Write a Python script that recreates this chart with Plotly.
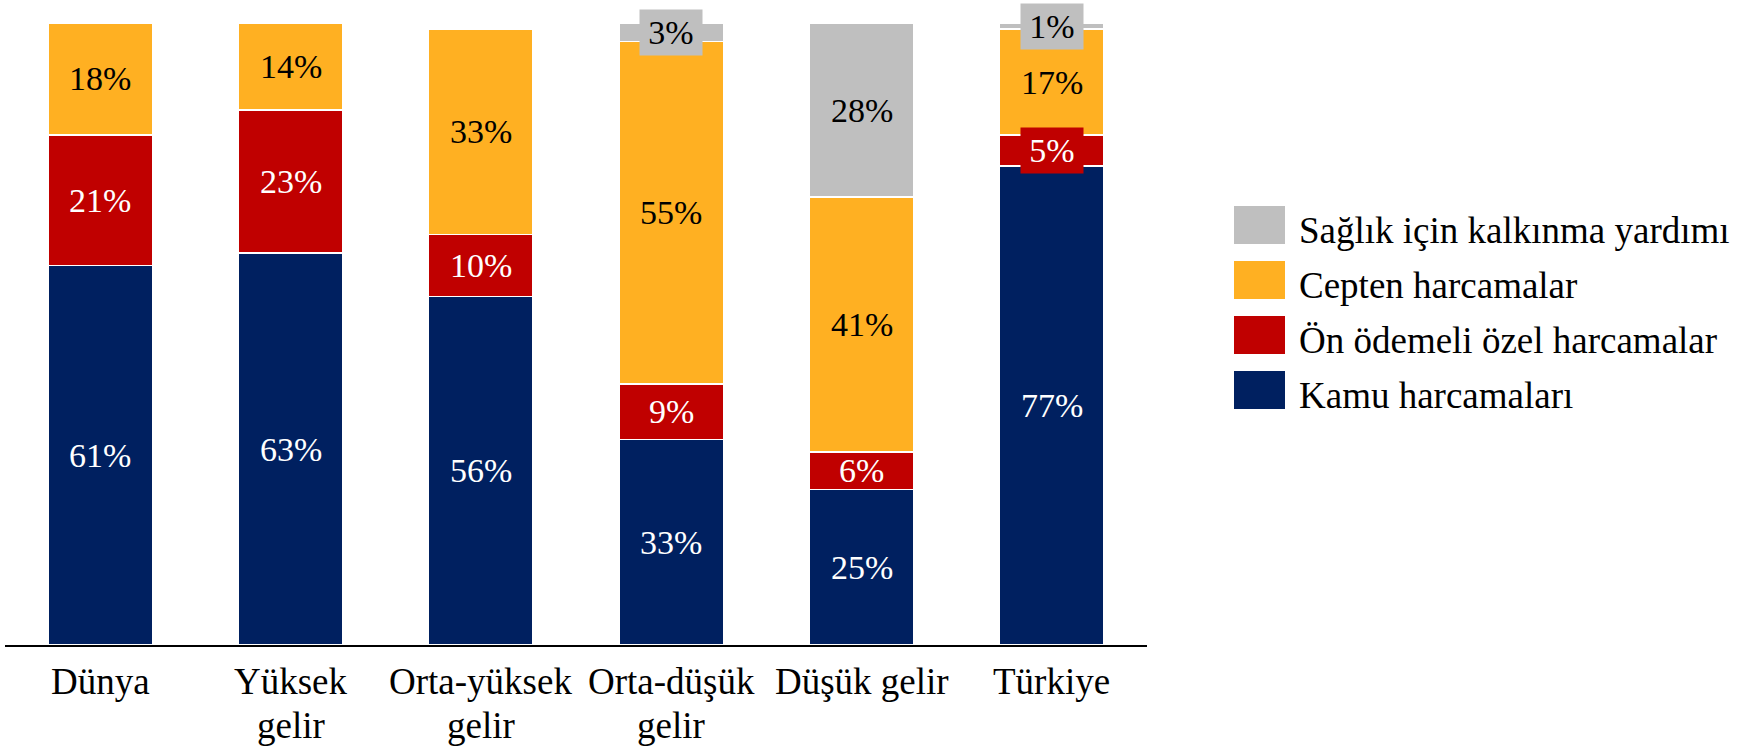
import plotly.graph_objects as go

# Health expenditure composition by income group (% of total)
categories = ["Dünya", "Yüksek gelir", "Orta-yüksek gelir", "Orta-düşük gelir", "Düşük gelir", "Türkiye"]
tick_lines = [["Dünya"], ["Yüksek", "gelir"], ["Orta-yüksek", "gelir"], ["Orta-düşük", "gelir"], ["Düşük gelir"], ["Türkiye"]]

series_names = ["Kamu harcamaları", "Ön ödemeli özel harcamalar", "Cepten harcamalar", "Sağlık için kalkınma yardımı"]
kamu = [61, 63, 56, 33, 25, 77]
on_odemeli = [21, 23, 10, 9, 6, 5]
cepten = [18, 14, 33, 55, 41, 17]
yardim = [0, 0, 0, 3, 28, 1]
series_values = [kamu, on_odemeli, cepten, yardim]

colors = ["#002060", "#C00000", "#FFB022", "#BFBFBF"]
label_colors = ["white", "white", "black", "black"]

FONT = "Liberation Serif, Times New Roman, serif"
W, H = 1746, 749
L, R, T, B = 5, 599, 23, 104
plot_w = W - L - R
plot_h = H - T - B

fig = go.Figure()
for name, vals, col in zip(series_names, series_values, colors):
    fig.add_trace(go.Bar(
        x=categories, y=vals, name=name,
        marker=dict(color=col, line=dict(color="white", width=1.5)),
        showlegend=False, hoverinfo="skip",
    ))

annotations = []
# value labels centred in each segment; very thin segments get a boxed label
for i, cat in enumerate(categories):
    base = 0
    for vals, col, tcol in zip(series_values, colors, label_colors):
        v = vals[i]
        if v > 0:
            ann = dict(
                x=cat, y=base + v / 2, xref="x", yref="y",
                text=f"{v}%", showarrow=False,
                font=dict(family=FONT, size=34, color=tcol),
                borderpad=1,
                xanchor="center", yanchor="middle",
            )
            if v <= 5:
                ann["bgcolor"] = col
                ann["width"] = 60
                ann["height"] = 43
            annotations.append(ann)
        base += v

# category labels under the axis
for cat, lines in zip(categories, tick_lines):
    for j, line in enumerate(lines):
        annotations.append(dict(
            x=cat, y=0, xref="x", yref="paper",
            text=line, showarrow=False,
            font=dict(family=FONT, size=37, color="black"),
            xanchor="center", yanchor="top", yshift=-14 - 44 * j,
        ))

# legend drawn at the right side
def px_x(p):
    return (p - L) / plot_w

def px_y(p):
    return (H - B - p) / plot_h

shapes = []
legend_order = [3, 2, 1, 0]
for k, idx in enumerate(legend_order):
    top = 206 + 55 * k
    shapes.append(dict(
        type="rect", xref="paper", yref="paper",
        x0=px_x(1234), x1=px_x(1285), y0=px_y(top + 38), y1=px_y(top),
        fillcolor=colors[idx], line=dict(width=0),
    ))
    annotations.append(dict(
        x=px_x(1297), y=px_y(top + 24), xref="paper", yref="paper",
        text=series_names[idx], showarrow=False,
        font=dict(family=FONT, size=37, color="black"),
        xanchor="left", yanchor="middle",
    ))

fig.update_layout(
    barmode="stack",
    bargap=0.451,
    width=W, height=H,
    margin=dict(l=L, r=R, t=T, b=B),
    plot_bgcolor="white", paper_bgcolor="white",
    xaxis=dict(
        showticklabels=False, ticks="", showgrid=False, zeroline=False,
        showline=True, linecolor="black", linewidth=1.5,
        range=[-0.5, len(categories) - 0.5],
    ),
    yaxis=dict(visible=False, range=[0, 100], showgrid=False, zeroline=False),
    annotations=annotations,
    shapes=shapes,
    showlegend=False,
)

fig.write_html("out.html", config={"displayModeBar": False})
